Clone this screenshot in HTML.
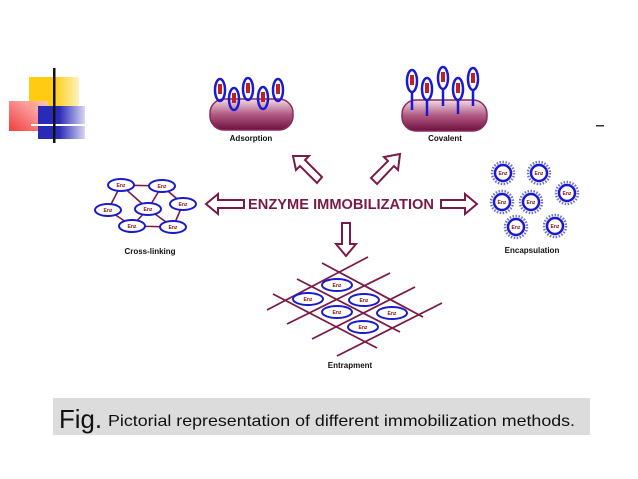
<!DOCTYPE html>
<html><head><meta charset="utf-8"><style>
body{margin:0;background:#fff;width:638px;height:479px;overflow:hidden;font-family:"Liberation Sans",sans-serif}
</style></head><body>
<svg width="638" height="479" viewBox="0 0 638 479" xmlns="http://www.w3.org/2000/svg" style="position:absolute;left:0;top:0">
<defs>
<linearGradient id="bar" x1="0" y1="0" x2="0" y2="1"><stop offset="0" stop-color="#f3dbe6"/><stop offset="0.5" stop-color="#b05a82"/><stop offset="1" stop-color="#6e1040"/></linearGradient>
<linearGradient id="yel" x1="0" x2="1"><stop offset="0.5" stop-color="#ffcc11"/><stop offset="1" stop-color="#fff2c0"/></linearGradient>
<linearGradient id="red" x1="1" y1="0" x2="0" y2="1"><stop offset="0" stop-color="#ffc8c8"/><stop offset="1" stop-color="#f02828"/></linearGradient>
<linearGradient id="blu" x1="0" x2="1"><stop offset="0.45" stop-color="#2a2ab8"/><stop offset="1" stop-color="#d8d8f4"/></linearGradient>
</defs>
<rect x="29" y="77" width="50" height="30" fill="url(#yel)"/>
<rect x="9" y="101" width="39" height="30" fill="url(#red)" opacity="0.9"/>
<rect x="38" y="106" width="47" height="33" fill="url(#blu)"/>
<rect x="31" y="124" width="54" height="2" fill="#fff"/>
<rect x="53" y="68" width="2.5" height="75" fill="#111"/>
<rect x="596" y="125" width="8" height="1.5" fill="#333"/>

<rect x="210" y="99" width="83" height="31" rx="14" fill="url(#bar)" stroke="#8a2a58" stroke-width="1.5"/>
<g fill="none" stroke="#1a1ad0" stroke-width="2.5">
<ellipse cx="220" cy="90" rx="5" ry="11"/><ellipse cx="234" cy="99" rx="5" ry="11"/><ellipse cx="248" cy="89" rx="5" ry="11"/><ellipse cx="263" cy="98" rx="5" ry="11"/><ellipse cx="278" cy="90" rx="5" ry="11"/>
</g>
<g fill="#c02020"><rect x="218" y="84" width="4" height="10"/><rect x="232" y="93" width="4" height="10"/><rect x="246" y="83" width="4" height="10"/><rect x="261" y="92" width="4" height="10"/><rect x="276" y="84" width="4" height="10"/></g>
<text x="251" y="141" font-size="8" font-weight="bold" text-anchor="middle" fill="#111">Adsorption</text>

<rect x="402" y="100" width="85" height="31" rx="14" fill="url(#bar)" stroke="#8a2a58" stroke-width="1.5"/>
<g fill="none" stroke="#1a1ad0" stroke-width="2.5">
<ellipse cx="412" cy="81" rx="5" ry="11"/><ellipse cx="427" cy="89" rx="5" ry="11"/><ellipse cx="443" cy="78" rx="5" ry="11"/><ellipse cx="458" cy="89" rx="5" ry="11"/><ellipse cx="473" cy="79" rx="5" ry="11"/>
<line x1="412" y1="92" x2="412" y2="110"/><line x1="427" y1="100" x2="427" y2="116"/><line x1="443" y1="89" x2="443" y2="106"/><line x1="458" y1="100" x2="458" y2="114"/><line x1="473" y1="90" x2="473" y2="106"/>
</g>
<g fill="#c02020"><rect x="410" y="75" width="4" height="10"/><rect x="425" y="83" width="4" height="10"/><rect x="441" y="72" width="4" height="10"/><rect x="456" y="83" width="4" height="10"/><rect x="471" y="73" width="4" height="10"/></g>
<text x="445" y="141" font-size="8" font-weight="bold" text-anchor="middle" fill="#111">Covalent</text>

<text x="341" y="209" font-size="14.5" font-weight="bold" text-anchor="middle" fill="#7a1a48" textLength="186" lengthAdjust="spacingAndGlyphs">ENZYME IMMOBILIZATION</text>
<g fill="#fff" stroke="#7a1a48" stroke-width="2">
<polygon points="206,204 218,194 218,200 244,200 244,208 218,208 218,214"/>
<polygon points="477,204 465,194 465,200 441,200 441,208 465,208 465,214"/>
<polygon points="293,156 309,156 305,160 322,177 317,183 300,166 296,170"/>
<polygon points="400,154 398,170 394,166 377,184 371,178 388,161 384,157"/>
<polygon points="346,256 336,244 342,244 342,223 350,223 350,244 356,244"/>
</g>

<g stroke="#7a1a48" stroke-width="1.6">
<line x1="121" y1="185" x2="162" y2="186"/><line x1="121" y1="185" x2="108" y2="210"/><line x1="121" y1="185" x2="148" y2="209"/>
<line x1="162" y1="186" x2="148" y2="209"/><line x1="162" y1="186" x2="183" y2="204"/>
<line x1="108" y1="210" x2="132" y2="226"/><line x1="148" y1="209" x2="132" y2="226"/><line x1="148" y1="209" x2="173" y2="227"/>
<line x1="183" y1="204" x2="173" y2="227"/><line x1="132" y1="226" x2="173" y2="227"/>
</g>
<g fill="#fff" stroke="#1a1ad0" stroke-width="2">
<ellipse cx="121" cy="185" rx="13" ry="6"/><ellipse cx="162" cy="186" rx="13" ry="6"/><ellipse cx="108" cy="210" rx="13" ry="6"/><ellipse cx="148" cy="209" rx="13" ry="6"/><ellipse cx="183" cy="204" rx="13" ry="6"/><ellipse cx="132" cy="226" rx="13" ry="6"/><ellipse cx="173" cy="227" rx="13" ry="6"/>
</g>
<g font-size="5" fill="#8a1010" text-anchor="middle" font-weight="bold">
<text x="121" y="187">Enz</text><text x="162" y="188">Enz</text><text x="108" y="212">Enz</text><text x="148" y="211">Enz</text><text x="183" y="206">Enz</text><text x="132" y="228">Enz</text><text x="173" y="229">Enz</text>
</g>
<text x="150" y="254" font-size="8" font-weight="bold" text-anchor="middle" fill="#111">Cross-linking</text>

<g fill="#fff" stroke="#1a1ad0" stroke-width="2.5">
<circle cx="503" cy="173" r="8"/><circle cx="539" cy="173" r="8"/><circle cx="502" cy="202" r="8"/><circle cx="531" cy="202" r="8"/><circle cx="567" cy="193" r="8"/><circle cx="516" cy="227" r="8"/><circle cx="555" cy="226" r="8"/>
</g>
<g fill="none" stroke="#7070c8" stroke-width="2.5" stroke-dasharray="1.5 1.5">
<circle cx="503" cy="173" r="11"/><circle cx="539" cy="173" r="11"/><circle cx="502" cy="202" r="11"/><circle cx="531" cy="202" r="11"/><circle cx="567" cy="193" r="11"/><circle cx="516" cy="227" r="11"/><circle cx="555" cy="226" r="11"/>
</g>
<g font-size="5" fill="#8a1010" text-anchor="middle" font-weight="bold">
<text x="503" y="175">Enz</text><text x="539" y="175">Enz</text><text x="502" y="204">Enz</text><text x="531" y="204">Enz</text><text x="567" y="195">Enz</text><text x="516" y="229">Enz</text><text x="555" y="228">Enz</text>
</g>
<text x="532" y="253" font-size="8" font-weight="bold" text-anchor="middle" fill="#111">Encapsulation</text>

<g stroke="#7a1a48" stroke-width="1.8">
<line x1="267" y1="310" x2="368" y2="257"/><line x1="287" y1="324" x2="390" y2="273"/><line x1="312" y1="339" x2="415" y2="287"/><line x1="337" y1="356" x2="442" y2="303"/>
<line x1="322" y1="263" x2="423" y2="317"/><line x1="297" y1="279" x2="400" y2="332"/><line x1="273" y1="294" x2="377" y2="348"/>
</g>
<g fill="#fff" stroke="#1a1ad0" stroke-width="2">
<ellipse cx="337" cy="285" rx="15" ry="6"/><ellipse cx="308" cy="299" rx="15" ry="6"/><ellipse cx="364" cy="300" rx="15" ry="6"/><ellipse cx="337" cy="312" rx="15" ry="6"/><ellipse cx="392" cy="313" rx="15" ry="6"/><ellipse cx="363" cy="327" rx="15" ry="6"/>
</g>
<g font-size="5" fill="#8a1010" text-anchor="middle" font-weight="bold">
<text x="337" y="287">Enz</text><text x="308" y="301">Enz</text><text x="364" y="302">Enz</text><text x="337" y="314">Enz</text><text x="392" y="315">Enz</text><text x="363" y="329">Enz</text>
</g>
<text x="350" y="368" font-size="8" font-weight="bold" text-anchor="middle" fill="#111">Entrapment</text>

<rect x="53" y="398" width="537" height="37" fill="#dcdcdc"/>
<text x="59" y="428" font-size="26" fill="#111" textLength="43" lengthAdjust="spacingAndGlyphs">Fig.</text>
<text x="108" y="426" font-size="16" fill="#111" textLength="467" lengthAdjust="spacingAndGlyphs">Pictorial representation of different immobilization methods.</text>
</svg>
</body></html>
